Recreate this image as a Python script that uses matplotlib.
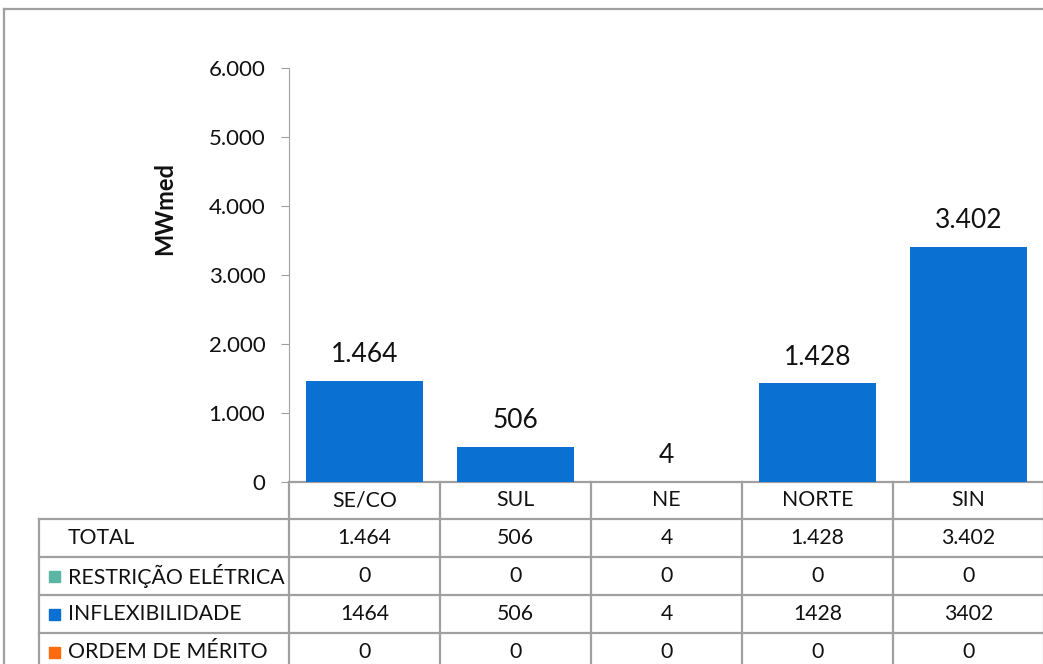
import matplotlib
matplotlib.use('Agg')
import matplotlib.pyplot as plt
from matplotlib.lines import Line2D
from matplotlib.patches import Rectangle

# data
regioes = ['SE/CO', 'SUL', 'NE', 'NORTE', 'SIN']
restricao = [0, 0, 0, 0, 0]
inflexibilidade = [1464, 506, 4, 1428, 3402]
merito = [0, 0, 0, 0, 0]
yticks = [0, 1000, 2000, 3000, 4000, 5000, 6000]

series_names = ['RESTRIÇÃO ELÉTRICA', 'INFLEXIBILIDADE', 'ORDEM DE MÉRITO']
series_colors = ['#5BB5A2', '#0A70D2', '#FF6A0E']


def fmt_br(v):
    return f'{v:,.0f}'.replace(',', '.')


total = [a + b + c for a, b, c in zip(restricao, inflexibilidade, merito)]

plt.rcParams['font.family'] = ['Lato', 'DejaVu Sans']

W, H = 1043, 664
fig = plt.figure(figsize=(W / 100, H / 100), dpi=100)

# chart area in pixel coords
x0, col_w = 289, 151
y_zero, y_top = 482, 68
ax = fig.add_axes([x0 / W, (H - y_zero) / H, 5 * col_w / W, (y_zero - y_top) / H])

x = range(len(regioes))
bottom = [0] * len(regioes)
for vals, color in zip([restricao, inflexibilidade, merito], series_colors):
    ax.bar(x, vals, width=0.77, bottom=bottom, color=color, edgecolor='none')
    bottom = [b + v for b, v in zip(bottom, vals)]

for i, t in enumerate(total):
    ax.annotate(fmt_br(t), (i, t), xytext=(0, 10), textcoords='offset points',
                ha='center', va='bottom', fontsize=19, color='#111111')

ax.set_xlim(-0.5, len(regioes) - 0.5)
ax.set_ylim(0, 6000)
ax.set_yticks(yticks)
ax.set_yticklabels([fmt_br(v) for v in yticks], fontsize=16, color='#111111')
ax.set_xticks([])
for s in ['top', 'right', 'bottom']:
    ax.spines[s].set_visible(False)
ax.spines['left'].set_color('#a0a0a0')
ax.tick_params(axis='y', length=6, color='#a0a0a0', pad=11)
ax.patch.set_alpha(0)

fig.text(165 / W, 1 - 209 / H, 'MWmed', rotation=90, ha='center', va='center',
         fontsize=17, fontweight='bold', color='#111111')

# overlay for table and border
ov = fig.add_axes([0, 0, 1, 1], zorder=-1)
ov.set_xlim(0, W)
ov.set_ylim(H, 0)
ov.axis('off')

line_kw = dict(color='#a0a0a0', lw=1.6)
# outer chart border
ov.add_line(Line2D([4, 4], [9, H], **line_kw))
ov.add_line(Line2D([4, W], [9, 9], **line_kw))

row_h = 38
tab_left = 39
header_top = y_zero
rows_top = header_top + 37
n_rows = 4
cols = [x0 + i * col_w for i in range(len(regioes) + 1)]

ov.add_line(Line2D([x0, W], [header_top, header_top], **line_kw))
for r in range(n_rows + 1):
    yy = rows_top + r * row_h
    ov.add_line(Line2D([tab_left, W], [yy, yy], **line_kw))
ov.add_line(Line2D([tab_left, tab_left], [rows_top, H], **line_kw))
for cx in cols:
    ov.add_line(Line2D([cx, cx], [header_top, H], **line_kw))

txt_kw = dict(fontsize=15.3, color='#111111', va='center')
for i, reg in enumerate(regioes):
    ov.text(cols[i] + col_w / 2, (header_top + rows_top) / 2, reg, ha='center', **txt_kw)

row_labels = ['TOTAL'] + series_names
row_vals = [[fmt_br(v) for v in total],
            [str(v) for v in restricao],
            [str(v) for v in inflexibilidade],
            [str(v) for v in merito]]
row_keys = [None] + series_colors

for r in range(n_rows):
    yc = rows_top + r * row_h + row_h / 2
    ov.text(68, yc, row_labels[r], ha='left', **txt_kw)
    if row_keys[r]:
        ov.add_patch(Rectangle((49, yc - 5.5), 11, 11, color=row_keys[r]))
    for i, v in enumerate(row_vals[r]):
        ov.text(cols[i] + col_w / 2, yc, v, ha='center', **txt_kw)

fig.savefig('out.png', dpi=100)
